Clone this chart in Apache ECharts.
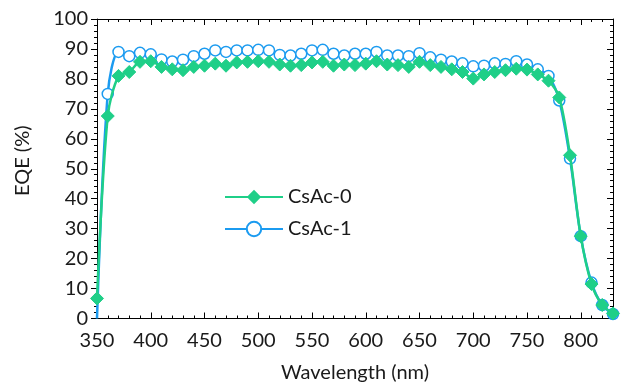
<!DOCTYPE html>
<html>
<head>
<meta charset="utf-8">
<script src="https://cdn.jsdelivr.net/npm/echarts@6/dist/echarts.min.js"></script>
<style>html,body{margin:0;padding:0;background:#fff;}#c{width:629px;height:389px;}</style>
</head>
<body>
<div id="c"></div>
<script>
const wavelength = [350,360,370,380,390,400,410,420,430,440,450,460,470,480,490,500,510,520,530,540,550,560,570,580,590,600,610,620,630,640,650,660,670,680,690,700,710,720,730,740,750,760,770,780,790,800,810,820,830];
const csac0 = [6.7,67.6,81,82.3,85.7,85.9,84,83.2,82.9,84,84.4,85.1,84.4,85.5,85.7,85.9,85.7,84.8,84.4,84.6,85.5,85.7,84.4,84.8,84.6,85.1,85.9,84.8,84.6,84,85.7,84.6,84,83.2,82.3,80.1,81.5,82.3,82.9,83.4,83.1,81.5,79.4,73.8,54.5,27.5,11.5,4.5,1.7];
const csac1 = [0,75,89,87.6,88.7,88.2,86.5,85.8,86.4,87.6,88.4,89.5,89,89.5,89.5,89.7,89.5,88,87.8,88.4,89.5,89.7,88.4,87.8,88.4,88.4,89,87.8,87.8,87.6,88.6,87.2,86.4,85.8,85.2,84.2,84.4,85.2,85,85.9,84.8,83.2,81,72.8,53.4,27.5,12,4.5,1.5];
const seriesNames = ['CsAc-0','CsAc-1'];
const xTicks = {min:350, max:830, interval:50};
const yTicks = {min:0, max:100, interval:10};

const FONT = 'Lato';
const TXT = '#1a1a1a';
const GREEN = '#1fcf88';
const BLUE = '#1b9bf0';

const pair = (xs, ys) => xs.map((x,i)=>[x, ys[i]]);

const chart = echarts.init(document.getElementById('c'), null, {renderer:'canvas'});
const lineAx = {show:true, lineStyle:{color:'#000', width:1}};
chart.setOption({
  animation:false,
  backgroundColor:'#fff',
  grid:{left:97, right:16, top:19, bottom:70.5, containLabel:false},
  legend:{
    orient:'vertical', left:219, top:182,
    itemWidth:58, itemHeight:18, itemGap:12,
    data:seriesNames,
    textStyle:{fontFamily:FONT, fontSize:20, color:TXT, padding:[0,0,0,0]},
  },
  xAxis:[
    {type:'value', position:'bottom', min:xTicks.min, max:xTicks.max, interval:xTicks.interval,
     axisLine:lineAx, splitLine:{show:false},
     axisTick:{show:true, inside:true, length:6, lineStyle:{color:'#000'}},
     axisLabel:{fontFamily:FONT, fontSize:20, color:TXT, margin:12, showMaxLabel:false,
       formatter:v=> (v % 50 === 0 ? String(v) : '')},
     name:'Wavelength (nm)', nameLocation:'middle', nameGap:44,
     nameTextStyle:{fontFamily:FONT, fontSize:20, color:TXT}},
    {type:'value', position:'bottom', min:xTicks.min, max:xTicks.max, interval:10,
     axisLine:{show:false}, splitLine:{show:false}, axisLabel:{show:false},
     axisTick:{show:true, inside:true, length:3, lineStyle:{color:'#000'}}},
    {type:'value', position:'top', min:xTicks.min, max:xTicks.max, interval:xTicks.interval,
     axisLine:lineAx, splitLine:{show:false}, axisLabel:{show:false},
     axisTick:{show:true, inside:true, length:6, lineStyle:{color:'#000'}}},
    {type:'value', position:'top', min:xTicks.min, max:xTicks.max, interval:10,
     axisLine:{show:false}, splitLine:{show:false}, axisLabel:{show:false},
     axisTick:{show:true, inside:true, length:3, lineStyle:{color:'#000'}}}
  ],
  yAxis:[
    {type:'value', position:'left', min:yTicks.min, max:yTicks.max, interval:yTicks.interval,
     axisLine:lineAx, splitLine:{show:false},
     axisTick:{show:true, inside:false, length:6, lineStyle:{color:'#000'}},
     minorTick:{show:true, splitNumber:5, length:3, lineStyle:{color:'#000'}},
     axisLabel:{fontFamily:FONT, fontSize:20, color:TXT, margin:9},
     name:'EQE (%)', nameLocation:'middle', nameGap:64, nameRotate:90,
     nameTextStyle:{fontFamily:FONT, fontSize:20, color:TXT, padding:[0,0,0,16]}},
    {type:'value', position:'right', min:yTicks.min, max:yTicks.max, interval:yTicks.interval,
     axisLine:lineAx, splitLine:{show:false}, axisLabel:{show:false},
     axisTick:{show:true, inside:true, length:6, lineStyle:{color:'#000'}},
     minorTick:{show:true, splitNumber:5, length:3, lineStyle:{color:'#000'}}}
  ],
  series:[
    {name:seriesNames[0], type:'line', xAxisIndex:0, yAxisIndex:0, z:3,
     data:pair(wavelength, csac0), smooth:0.3,
     symbol:'diamond', symbolSize:13,
     lineStyle:{color:GREEN, width:2.5},
     itemStyle:{color:GREEN, borderColor:GREEN}},
    {name:seriesNames[1], type:'line', xAxisIndex:0, yAxisIndex:0, z:2,
     data:pair(wavelength, csac1), smooth:0.3,
     symbol:(v,p)=> (p && p.dataIndex === 0 ? 'none' : 'circle'), symbolSize:11,
     lineStyle:{color:BLUE, width:2.5},
     itemStyle:{color:'#fff', borderColor:BLUE, borderWidth:1.5}}
  ]
});
</script>
</body>
</html>
